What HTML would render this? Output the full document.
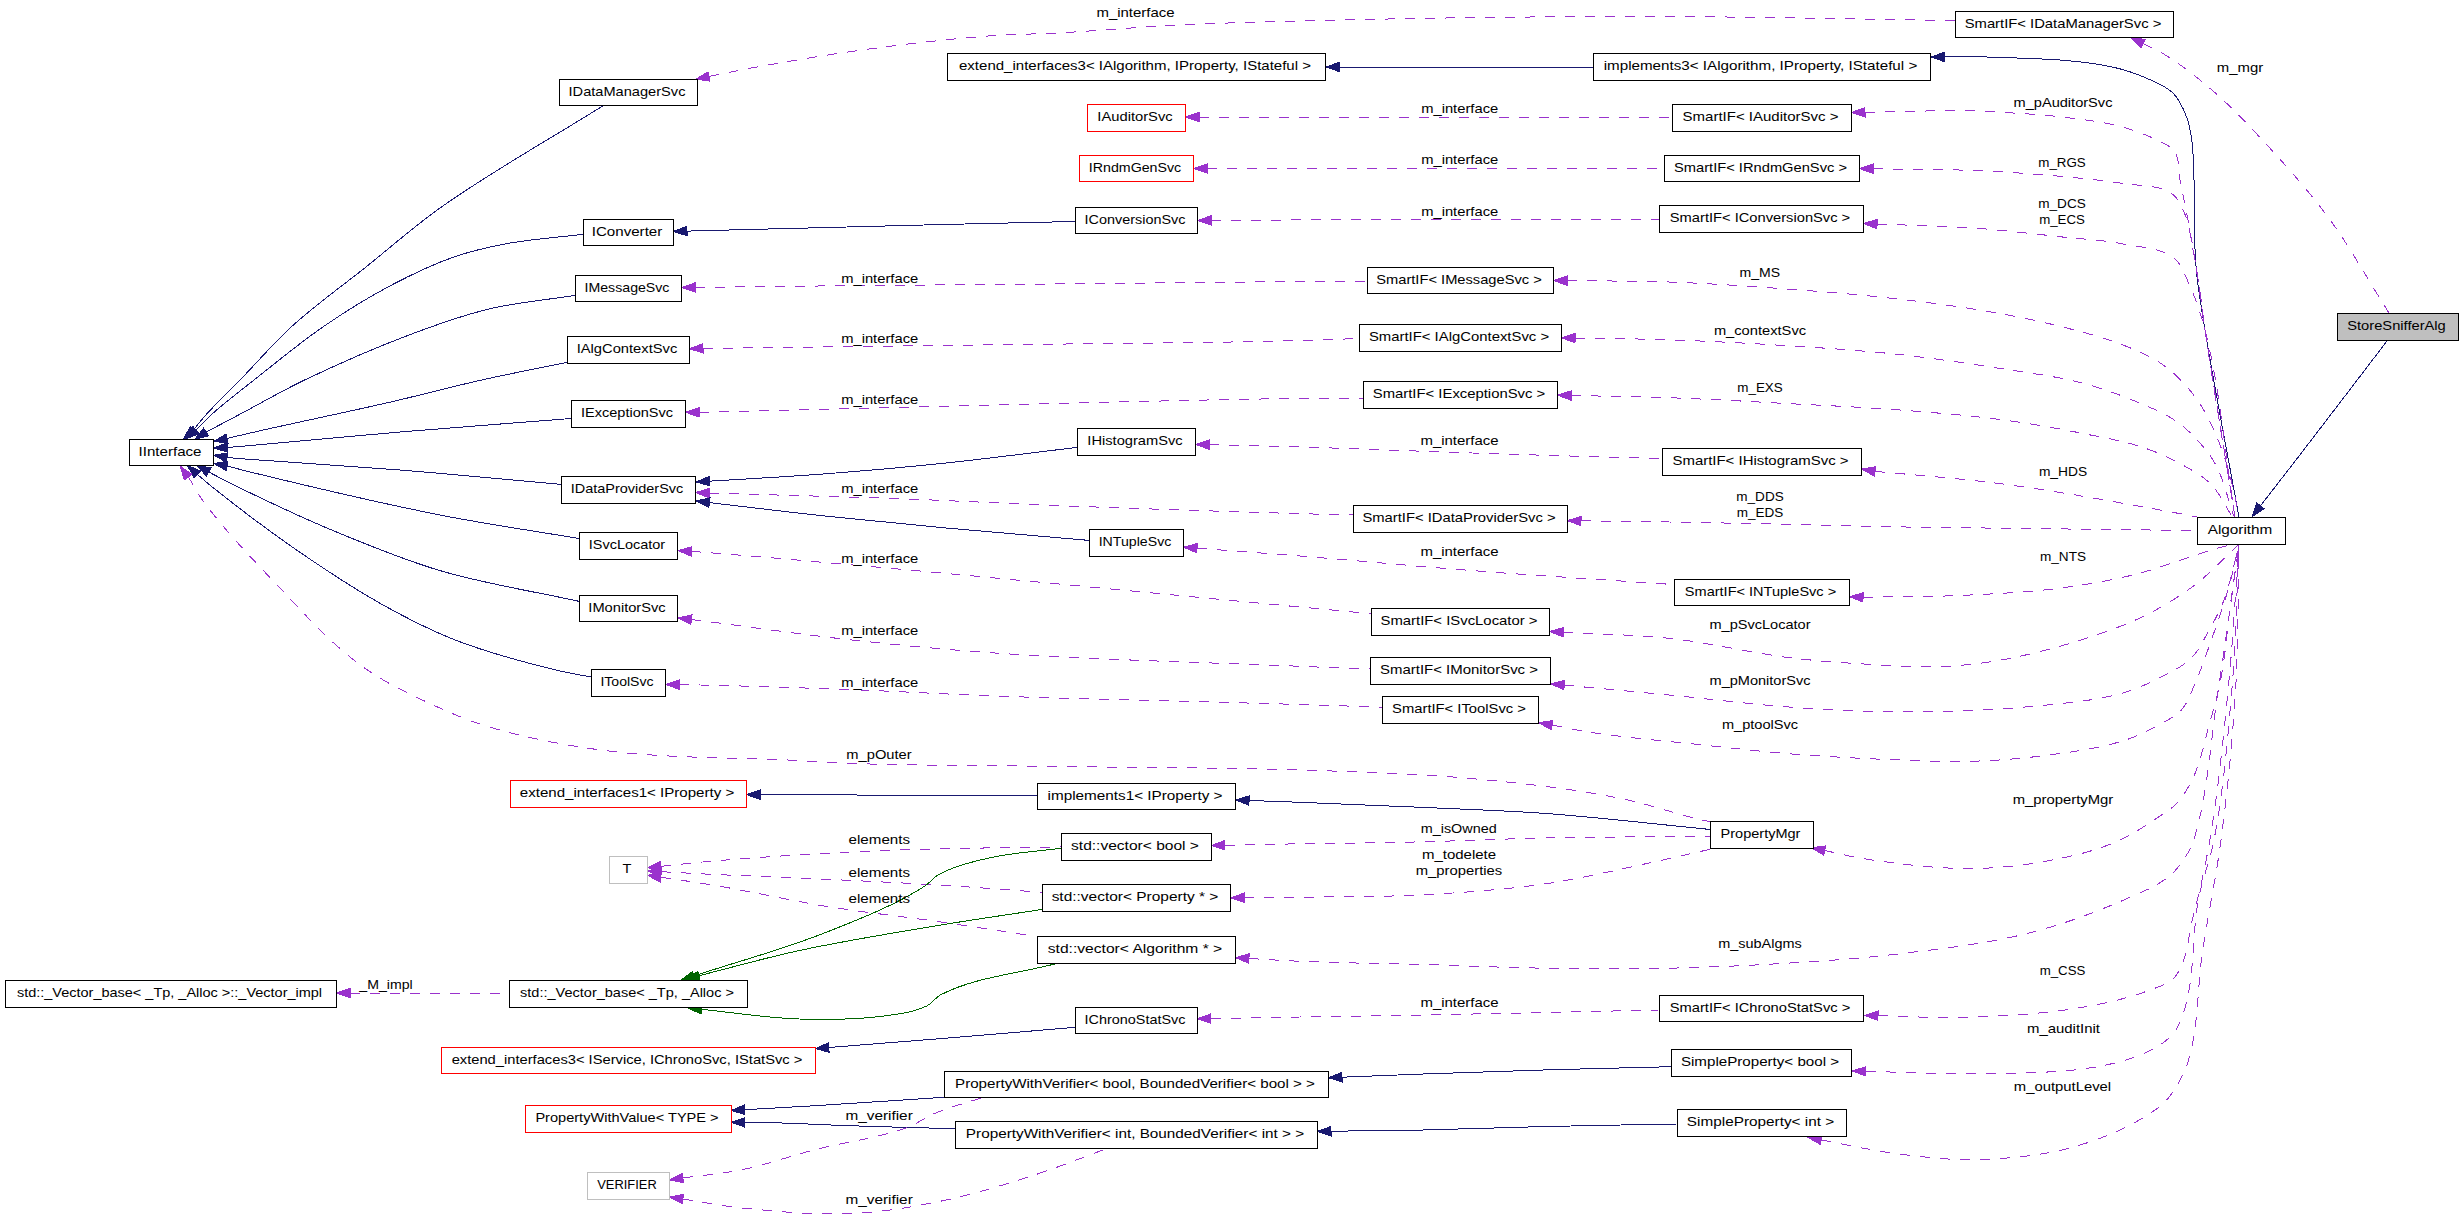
<!DOCTYPE html>
<html><head><meta charset="utf-8"><style>
html,body{margin:0;padding:0;background:#fff;}
svg{display:block;}
text{font-family:"Liberation Sans",sans-serif;font-size:13.4px;fill:#000;text-anchor:middle;}
</style></head><body>
<svg width="2464" height="1219" viewBox="0 0 2464 1219">
<rect x="0" y="0" width="2464" height="1219" fill="#fff"/>
<g fill="none" stroke-width="1" shape-rendering="crispEdges">
<path d="M1339.5,67 L1593,67" stroke="#191970"/>
<polygon points="1326,67 1339.5,62.3 1339.5,71.7" fill="#191970" stroke="#191970"/>
<path d="M1944.5,57 C1958.7,57 1972.8,56.5 1987,57 C2028.1,58.6 2069.7,58.4 2110,66.5 C2124,69.3 2137.7,74.1 2150.7,80 C2158.7,83.6 2167.2,87.1 2173.3,93.3 C2179.6,99.8 2183.3,108.5 2186.6,117 C2189.4,124.2 2190.6,131.9 2191.7,139.5 C2193.3,150.3 2193.4,161.4 2193.8,172.3 C2194.7,196.2 2193.9,220.1 2194.8,244 C2195.2,254.3 2195.7,264.6 2196.8,274.8 C2198.8,293.3 2202,311.6 2205,330 C2215.3,392.5 2227.7,454.7 2239,517" stroke="#191970"/>
<polygon points="1931,57 1944.5,52.3 1944.5,61.7" fill="#191970" stroke="#191970"/>
<path d="M2260.5,505.8 C2273.6,488.8 2286.9,471.9 2300,454.8 C2329.1,417 2358,378.9 2387,341" stroke="#191970"/>
<polygon points="2252.2,516.5 2256.8,502.9 2264.2,508.7" fill="#191970" stroke="#191970"/>
<path d="M687,231.1 C731.3,229.9 775.7,228.8 820,227.7 C861,226.6 902,225.5 943,224.5 C987,223.4 1031,222.5 1075,221.5" stroke="#191970"/>
<polygon points="673.5,231.4 686.9,226.4 687.1,235.8" fill="#191970" stroke="#191970"/>
<path d="M709.5,481.2 C747.3,478.8 785.2,476.9 823,474 C864,470.9 905.1,467.3 946,463 C989.7,458.4 1033.3,452.6 1077,447.4" stroke="#191970"/>
<polygon points="696,482 709.2,476.5 709.8,485.8" fill="#191970" stroke="#191970"/>
<path d="M709.4,502.6 C747.3,507 785.1,511.7 823,515.8 C864,520.2 905,524.2 946,528 C993.6,532.4 1041.3,536.3 1089,540.4" stroke="#191970"/>
<polygon points="696,501 710,497.9 708.9,507.2" fill="#191970" stroke="#191970"/>
<path d="M760,794.6 C792.5,794.8 825,794.9 857.5,795 C917.3,795.2 977.2,795.2 1037,795.3" stroke="#191970"/>
<polygon points="746.5,794.6 760,789.9 760,799.3" fill="#191970" stroke="#191970"/>
<path d="M1249.1,800.5 C1266.1,801.1 1283,801.6 1300,802.3 C1341,803.9 1382,805.5 1423,807.4 C1464,809.3 1505.1,810.5 1546,813.5 C1600.9,817.5 1655.7,824.2 1710.5,829.5" stroke="#191970"/>
<polygon points="1235.6,800 1249.3,795.8 1248.9,805.2" fill="#191970" stroke="#191970"/>
<path d="M828.8,1047.5 C866.2,1044.6 903.6,1041.7 941,1038.6 C985.8,1034.9 1030.5,1031.1 1075.3,1027.3" stroke="#191970"/>
<polygon points="815.3,1048.6 828.4,1042.8 829.1,1052.2" fill="#191970" stroke="#191970"/>
<path d="M1342,1077.2 C1369,1076.1 1396,1075 1423,1074 C1464,1072.5 1505,1071.1 1546,1069.9 C1587.7,1068.7 1629.3,1067.8 1671,1066.7" stroke="#191970"/>
<polygon points="1328.5,1077.7 1341.8,1072.5 1342.2,1081.9" fill="#191970" stroke="#191970"/>
<path d="M1331,1131.2 C1361.7,1130.8 1392.3,1130.6 1423,1130 C1464,1129.1 1505,1127.5 1546,1126.5 C1589.7,1125.5 1633.3,1124.8 1677,1124" stroke="#191970"/>
<polygon points="1317.5,1131.4 1330.9,1126.5 1331.1,1135.9" fill="#191970" stroke="#191970"/>
<path d="M744.7,1109.7 C768.1,1108.4 791.6,1107.1 815,1105.7 C858,1103.1 901,1100.1 944,1097.3" stroke="#191970"/>
<polygon points="731.2,1110.5 744.4,1105 744.9,1114.4" fill="#191970" stroke="#191970"/>
<path d="M744.7,1122.4 C756,1122.6 767.4,1122.6 778.7,1122.9 C803,1123.6 827.4,1125 851.7,1125.8 C886.1,1127 920.6,1127.7 955,1128.7" stroke="#191970"/>
<polygon points="731.2,1122.2 744.8,1117.7 744.6,1127.1" fill="#191970" stroke="#191970"/>
<path d="M193.6,429.7 C197.7,424.8 201.5,419.7 205.8,415 C216.7,402.9 228.6,391.7 240,380 C257.5,362 273.8,342.9 292.3,326 C315.6,304.8 341.4,286.6 366,267 C390.6,247.3 414.3,226.2 440,208 C492.5,170.8 549.1,139.6 603.6,105.4" stroke="#191970"/>
<polygon points="183.7,438.8 190.4,426.2 196.8,433.1" fill="#191970" stroke="#191970"/>
<path d="M196,430 C201,425 205.8,419.7 211,415 C224.7,402.6 239.5,391.5 254,380 C277.2,361.7 299.9,342.7 324.3,326 C345.7,311.3 367.8,297.6 390.7,285.5 C411.4,274.6 432.6,264.4 454.7,256.7 C471.5,250.9 488.9,247 506.4,243.7 C531.8,239 557.6,237.4 583.2,234.3" stroke="#191970"/>
<polygon points="186,439 192.9,426.5 199.2,433.5" fill="#191970" stroke="#191970"/>
<path d="M206.2,432 C217,426.3 227.7,420.7 238.5,415 C260.5,403.4 282.1,390.8 304.6,380 C340.1,363 376.2,347.3 413,333.5 C437.9,324.2 463.1,315.2 489,309 C517.3,302.2 546.5,299.9 575.3,295.4" stroke="#191970"/>
<polygon points="194.9,439.4 203.6,428.1 208.8,435.9" fill="#191970" stroke="#191970"/>
<path d="M227,438.6 C233,437.1 239,435.6 245,434.2 C293.5,423 342.2,413.2 390.7,402 C421.1,395 451.3,386.8 481.8,380 C510.2,373.6 538.7,368.2 567.2,362.3" stroke="#191970"/>
<polygon points="213.8,441.4 226,434 228,443.2" fill="#191970" stroke="#191970"/>
<path d="M227.3,447.5 C233.2,447 239.1,446.5 245,446 C296.7,441.5 348.3,436.4 400,432 C457,427.2 514,423 571,418.5" stroke="#191970"/>
<polygon points="213.8,448 227.1,442.8 227.5,452.2" fill="#191970" stroke="#191970"/>
<path d="M227.1,457.5 C233.1,458 239,458.5 245,459 C296.6,463 348.4,465.9 400,470 C453.8,474.3 507.5,479.6 561.3,484.4" stroke="#191970"/>
<polygon points="213.8,455.2 227.9,452.8 226.3,462.1" fill="#191970" stroke="#191970"/>
<path d="M227.1,466 C233,467.5 239,469.2 245,470.7 C309.7,486.6 374.6,502 440,515 C486.2,524.2 532.9,530.7 579.3,538.6" stroke="#191970"/>
<polygon points="213.8,463.5 227.9,461.3 226.2,470.6" fill="#191970" stroke="#191970"/>
<path d="M208.7,472 C217.1,476.3 225.4,480.9 233.9,485 C266.9,501.1 300.1,516.9 334,531 C368.8,545.5 403.8,559.9 440,570.6 C485.6,584.1 532.9,591.1 579.3,601.4" stroke="#191970"/>
<polygon points="196.9,465.5 211,467.9 206.5,476.1" fill="#191970" stroke="#191970"/>
<path d="M197.5,474.5 C201.6,478 205.6,481.6 209.8,485 C236.7,506.5 264,527.4 292.3,547 C321.1,567 350.4,586.6 381,603.8 C405.6,617.6 430.7,630.5 457,640.7 C489,653.1 522.3,661.8 555.6,670 C567.3,672.9 579.2,674.7 591,677" stroke="#191970"/>
<polygon points="187.4,465.5 200.6,471 194.3,478" fill="#191970" stroke="#191970"/>
<path d="M708.9,76.5 C721.3,74 733.6,71.3 746,69 C786.9,61.5 827.8,54.6 869,49 C909.9,43.5 950.9,38.8 992,35.7 C1013.6,34.1 1035.3,34.2 1057,33 C1095.7,30.9 1134.3,27.4 1173,25.4 C1214,23.3 1255,22 1296,21 C1410.9,18.2 1525.8,16.5 1640.7,16.5 C1745.5,16.5 1850.2,19.1 1955,20.4" stroke="#9a32cd" stroke-dasharray="10,10"/>
<polygon points="695.7,79.2 708,71.9 709.9,81.1" fill="#9a32cd" stroke="#9a32cd"/>
<path d="M2143,43.6 C2150.3,47.3 2158,50.4 2165,54.8 C2181.6,65.2 2197.2,77.2 2212,90 C2231.5,106.9 2249.3,125.8 2266.8,144.8 C2288.7,168.6 2310.3,192.9 2329.4,219 C2349.5,246.4 2365.9,276.3 2384,305 C2385.7,307.7 2387.3,310.3 2389,313" stroke="#9a32cd" stroke-dasharray="10,10"/>
<polygon points="2131,37.4 2145.2,39.4 2140.9,47.7" fill="#9a32cd" stroke="#9a32cd"/>
<path d="M1199,117 L1672,117" stroke="#9a32cd" stroke-dasharray="10,10"/>
<polygon points="1185.5,117 1199,112.3 1199,121.7" fill="#9a32cd" stroke="#9a32cd"/>
<path d="M1207.2,168.5 L1664,168.5" stroke="#9a32cd" stroke-dasharray="10,10"/>
<polygon points="1193.7,168.5 1207.2,163.8 1207.2,173.2" fill="#9a32cd" stroke="#9a32cd"/>
<path d="M1211.2,220.4 C1274.1,220.1 1337.1,219.7 1400,219.5 C1486.3,219.2 1572.7,219.2 1659,219" stroke="#9a32cd" stroke-dasharray="10,10"/>
<polygon points="1197.7,220.5 1211.2,215.7 1211.2,225.1" fill="#9a32cd" stroke="#9a32cd"/>
<path d="M695.2,287.5 C696.8,287.4 698.4,287.4 700,287.4 C749.2,286.8 798.5,286.2 847.7,285.7 C896.8,285.2 945.9,284.9 995,284.5 C1096.7,283.6 1198.3,282.4 1300,281.5 C1322.3,281.3 1344.7,281.2 1367,281" stroke="#9a32cd" stroke-dasharray="10,10"/>
<polygon points="681.7,287.6 695.1,282.8 695.3,292.2" fill="#9a32cd" stroke="#9a32cd"/>
<path d="M703,348.4 C800.3,347.2 897.7,346.1 995,344.8 C1096.7,343.5 1198.4,343.1 1300,340.6 C1319.7,340.1 1339.3,339.2 1359,338.5" stroke="#9a32cd" stroke-dasharray="10,10"/>
<polygon points="689.5,348.7 702.9,343.7 703.1,353.1" fill="#9a32cd" stroke="#9a32cd"/>
<path d="M699.1,412.4 C797.7,409.9 896.4,407.3 995,405 C1096.7,402.6 1198.3,399.8 1300,398.4 C1321,398.1 1342,398.1 1363,398" stroke="#9a32cd" stroke-dasharray="10,10"/>
<polygon points="685.6,412.2 699.2,407.7 699,417.1" fill="#9a32cd" stroke="#9a32cd"/>
<path d="M1209.2,444.7 C1239.5,445.5 1269.7,446.1 1300,447 C1357.4,448.7 1414.9,451.1 1472.3,453 C1535.6,455.1 1599,456.8 1662.3,458.7" stroke="#9a32cd" stroke-dasharray="10,10"/>
<polygon points="1195.7,444.4 1209.3,440 1209.1,449.4" fill="#9a32cd" stroke="#9a32cd"/>
<path d="M709.1,493 C730.7,493.6 752.2,494.3 773.8,494.9 C814.9,496.1 855.9,497.1 897,498.6 C954.3,500.7 1011.7,503.8 1069,506 C1142.9,508.8 1216.8,511.2 1290.7,513.4 C1311.5,514 1332.2,514.5 1353,515" stroke="#9a32cd" stroke-dasharray="10,10"/>
<polygon points="695.6,492.6 709.2,488.3 709,497.7" fill="#9a32cd" stroke="#9a32cd"/>
<path d="M1197.1,548.2 C1231.4,550.8 1265.7,553.3 1300,556 C1357.5,560.6 1414.8,566.2 1472.3,570.6 C1539.5,575.8 1606.8,579.9 1674,584.6" stroke="#9a32cd" stroke-dasharray="10,10"/>
<polygon points="1183.6,547.2 1197.4,543.5 1196.7,552.9" fill="#9a32cd" stroke="#9a32cd"/>
<path d="M691.5,551.5 C694.3,551.6 697.2,551.8 700,552 C749.3,555.7 798.5,560.2 847.7,564.5 C896.8,568.8 945.9,573.4 995,578 C1096.7,587.5 1198.3,597.4 1300,607 C1323.8,609.2 1347.6,611.5 1371.4,613.7" stroke="#9a32cd" stroke-dasharray="10,10"/>
<polygon points="678,550.6 691.8,546.8 691.2,556.1" fill="#9a32cd" stroke="#9a32cd"/>
<path d="M691.4,619.5 C694.3,619.9 697.1,620.2 700,620.6 C749.2,626.8 798.4,634.1 847.7,639.5 C896.7,644.9 945.8,649.7 995,653 C1096.5,659.9 1198.3,662.1 1300,666.3 C1323.5,667.3 1346.9,668.1 1370.4,669" stroke="#9a32cd" stroke-dasharray="10,10"/>
<polygon points="678,617.9 692,614.9 690.8,624.2" fill="#9a32cd" stroke="#9a32cd"/>
<path d="M679.5,684.7 C686.3,684.8 693.2,684.8 700,685 C749.2,686.1 798.5,687.7 847.7,689.5 C896.8,691.3 945.9,694.2 995,696 C1096.6,699.7 1198.3,701.4 1300,704.5 C1327.5,705.3 1355,706.3 1382.5,707.2" stroke="#9a32cd" stroke-dasharray="10,10"/>
<polygon points="666,684.5 679.6,680 679.4,689.4" fill="#9a32cd" stroke="#9a32cd"/>
<path d="M1210.9,1018.6 C1240.6,1018 1270.3,1017.5 1300,1017 C1341,1016.3 1382,1015.7 1423,1015 C1464,1014.2 1505,1013.4 1546,1012.5 C1583.7,1011.7 1621.3,1010.8 1659,1010" stroke="#9a32cd" stroke-dasharray="10,10"/>
<polygon points="1197.4,1018.8 1210.8,1013.9 1211,1023.3" fill="#9a32cd" stroke="#9a32cd"/>
<path d="M1865,112.3 C1899.7,111.8 1934.3,110.3 1969,110.8 C1979.3,111 1989.7,111.6 2000,112.2 C2020.5,113.5 2041.1,114.5 2061.5,117 C2082.1,119.5 2103,121.6 2123,127.2 C2137.2,131.2 2151,136.6 2164,143.6 C2167.7,145.6 2172,147.2 2174.3,150.7 C2180.2,159.7 2178.3,171.9 2180.4,182.5 C2183.1,196.2 2186.1,209.8 2188.6,223.5 C2192.4,243.9 2195.9,264.4 2199,285 C2201.3,300 2202.8,315 2205,330 C2214.2,392.5 2225,454.7 2235,517" stroke="#9a32cd" stroke-dasharray="10,10"/>
<polygon points="1851.5,112.5 1864.9,107.6 1865.1,117" fill="#9a32cd" stroke="#9a32cd"/>
<path d="M1873.2,168.8 C1905.1,169.3 1937.1,169.2 1969,170.3 C1982.1,170.7 1995.1,171.5 2008.2,172.3 C2026,173.4 2043.8,174.7 2061.5,176.4 C2082,178.4 2102.6,180.2 2123,183.5 C2139.5,186.2 2158.3,184.3 2172,193.8 C2178.4,198.2 2181.5,206.2 2184.5,213.3 C2189.1,224.2 2190.4,236.3 2192.7,248 C2197.9,275.1 2200.8,302.7 2205,330 C2214.7,392.4 2225,454.7 2235,517" stroke="#9a32cd" stroke-dasharray="10,10"/>
<polygon points="1859.7,168.6 1873.3,164.1 1873.1,173.5" fill="#9a32cd" stroke="#9a32cd"/>
<path d="M1877.1,224 C1907.7,225.3 1938.4,225.8 1969,227.7 C1979.3,228.3 1989.7,229.3 2000,230.3 C2020.5,232.3 2041,234.6 2061.5,236.9 C2082,239.2 2102.8,240 2123,244 C2140.4,247.4 2160.3,247.5 2174.3,258.4 C2181.8,264.2 2184.6,274.4 2188.6,283 C2195.5,298.1 2200.9,313.9 2205,330 C2220.5,391.2 2225,454.7 2235,517" stroke="#9a32cd" stroke-dasharray="10,10"/>
<polygon points="1863.6,223.5 1877.3,219.3 1876.9,228.7" fill="#9a32cd" stroke="#9a32cd"/>
<path d="M1567.2,280.7 C1601.1,281.1 1635.1,280.8 1669,282 C1710,283.5 1751,286.3 1792,289.4 C1828,292.1 1864.1,295 1900,299.2 C1933.4,303.1 1966.9,307.6 2000,313.5 C2020.6,317.2 2041.2,321.5 2061.5,326.7 C2082.2,332 2103.1,337.1 2123,345 C2137.2,350.6 2151.6,356.6 2164,365.6 C2175.8,374.1 2186.1,384.8 2194.8,396.4 C2203.3,407.6 2209.5,420.5 2215.3,433.3 C2221.2,446.5 2225.6,460.4 2229.6,474.3 C2233.5,488 2235.9,502.1 2239,516" stroke="#9a32cd" stroke-dasharray="10,10"/>
<polygon points="1553.7,280.5 1567.3,276 1567.1,285.4" fill="#9a32cd" stroke="#9a32cd"/>
<path d="M1575.1,338.1 C1606.4,338.7 1637.7,338.7 1669,339.8 C1710,341.2 1751,343.3 1792,346 C1828,348.3 1864.1,350.7 1900,354.6 C1936.2,358.6 1972.2,364 2008.2,369.7 C2032.9,373.6 2057.8,376.6 2082,383 C2103,388.5 2123.5,396.1 2143.5,404.6 C2154.1,409.1 2164.7,413.7 2174.3,420 C2181.8,424.9 2188.6,430.9 2194.8,437.4 C2202.5,445.5 2209.9,454.2 2215.3,464 C2224.1,480.2 2227.6,498.7 2233.8,516" stroke="#9a32cd" stroke-dasharray="10,10"/>
<polygon points="1561.6,337.9 1575.2,333.4 1575,342.8" fill="#9a32cd" stroke="#9a32cd"/>
<path d="M1571.2,395.5 C1603.8,396.2 1636.4,396.5 1669,397.7 C1710,399.2 1751,401.6 1792,403.8 C1828,405.7 1864,407.2 1900,410 C1934.7,412.7 1969.5,415.4 2004,420 C2030.1,423.5 2056.1,428.1 2082,433.3 C2102.6,437.5 2123.6,440.9 2143.5,447.6 C2157.7,452.4 2171.5,458.6 2184.5,466 C2193.9,471.3 2203.7,476.7 2211.2,484.5 C2219.9,493.5 2224.9,505.5 2231.7,516" stroke="#9a32cd" stroke-dasharray="10,10"/>
<polygon points="1557.7,395.2 1571.3,390.8 1571.1,400.2" fill="#9a32cd" stroke="#9a32cd"/>
<path d="M1875,471.3 C1912.3,474.9 1949.8,477.6 1987,482 C2011.9,485 2036.7,488.8 2061.5,492.7 C2088.9,497.1 2116.2,502.1 2143.5,507 C2158.5,509.7 2173.6,512.4 2188.6,515.3 C2191.4,515.8 2194.2,516.4 2197,517" stroke="#9a32cd" stroke-dasharray="10,10"/>
<polygon points="1861.7,469 1875.8,466.7 1874.2,476" fill="#9a32cd" stroke="#9a32cd"/>
<path d="M1581,520.9 C1610.3,521.2 1639.7,521.5 1669,522 C1710,522.7 1751,523.5 1792,524.4 C1828,525.2 1864,526.3 1900,526.9 C1945.3,527.7 1990.7,528 2036,528.6 C2089.7,529.3 2143.3,529.9 2197,530.6" stroke="#9a32cd" stroke-dasharray="10,10"/>
<polygon points="1567.5,520.7 1581.1,516.2 1580.9,525.6" fill="#9a32cd" stroke="#9a32cd"/>
<path d="M1863.1,597.3 C1896.1,596.6 1929.1,596.9 1962,595.4 C1995.1,593.9 2028.2,592.2 2061,588 C2085.8,584.8 2110.5,580.6 2134.7,574.5 C2162.3,567.6 2188.7,556.5 2216,548.6 C2220.6,547.3 2225.3,546.2 2230,545" stroke="#9a32cd" stroke-dasharray="10,10"/>
<polygon points="1849.6,596.8 1863.3,592.6 1862.9,602" fill="#9a32cd" stroke="#9a32cd"/>
<path d="M1563.3,632.3 C1598.5,634.3 1633.9,634.5 1669,638.3 C1710.3,642.8 1750.8,653 1792,658 C1815.9,660.9 1840,662.6 1864,664 C1888.6,665.5 1913.3,667.7 1938,666.7 C1962.7,665.7 1987.5,663 2011.7,658 C2049.8,650.2 2087.4,639.1 2123.7,625 C2137.7,619.6 2151.3,612.7 2164.3,605.2 C2176.3,598.2 2188,590.5 2198.8,581.8 C2212.8,570.6 2224.9,557.3 2238,545" stroke="#9a32cd" stroke-dasharray="10,10"/>
<polygon points="1549.8,631.5 1563.5,627.6 1563,637" fill="#9a32cd" stroke="#9a32cd"/>
<path d="M1564.2,685.1 C1599.2,688.4 1634.1,691.6 1669,695 C1710,699 1750.9,704.3 1792,707.2 C1827.9,709.8 1864,712 1900,712 C1945.5,712 1991,710.3 2036.3,706 C2064.4,703.3 2092.7,701 2120,693.8 C2131.9,690.6 2143.4,685.8 2154.5,680.3 C2167.4,673.9 2181.1,668 2191.4,658 C2199,650.5 2203.3,640.3 2208.6,631 C2214,621.4 2219.5,611.8 2223.4,601.5 C2230.4,583.3 2233.8,563.8 2239,545" stroke="#9a32cd" stroke-dasharray="10,10"/>
<polygon points="1550.8,683.8 1564.7,680.4 1563.8,689.8" fill="#9a32cd" stroke="#9a32cd"/>
<path d="M1552,725.1 C1566.3,727.8 1580.6,730.9 1595,733 C1627.8,737.8 1660.8,740.5 1693.8,744 C1726.5,747.5 1759.2,751.4 1792,754 C1827.9,756.8 1864,758.6 1900,760 C1920.7,760.8 1941.3,761.9 1962,761.5 C1986.7,761 2011.5,759.6 2036,756.6 C2065.5,752.9 2095.4,749.5 2123.7,740.6 C2137.9,736.1 2151.4,729.4 2164.3,722 C2170.4,718.5 2176.9,715.1 2181.5,709.8 C2188.7,701.5 2191.9,690.4 2196.3,680.3 C2201.9,667.5 2206.3,654.2 2211,641 C2217.1,623.8 2223.3,606.6 2228.3,589 C2232.5,574.5 2235.4,559.7 2239,545" stroke="#9a32cd" stroke-dasharray="10,10"/>
<polygon points="1538.7,722.7 1552.8,720.5 1551.1,729.8" fill="#9a32cd" stroke="#9a32cd"/>
<path d="M1824.7,850.5 C1838.3,853.4 1851.8,857 1865.5,859 C1903.4,864.5 1941.7,869.5 1980,868.4 C2013,867.4 2045.9,862.1 2078,854.4 C2092.4,850.9 2106.6,846.2 2120,840 C2133,834 2145.1,826 2157,818 C2163.8,813.5 2171.1,809.4 2176.6,803.4 C2183.9,795.6 2189.4,786 2193.8,776.3 C2200.9,760.7 2204,743.5 2208.6,727 C2213.1,710.7 2217.9,694.4 2221,677.8 C2225.8,652.6 2227.3,626.9 2230.8,601.5 C2233.4,582.6 2236.3,563.8 2239,545" stroke="#9a32cd" stroke-dasharray="10,10"/>
<polygon points="1811.5,847.8 1825.7,845.9 1823.8,855.1" fill="#9a32cd" stroke="#9a32cd"/>
<path d="M1249,958.5 C1266,959.4 1283,960.6 1300,961.3 C1341,963 1382,963.4 1423,964.5 C1464,965.7 1505,967.6 1546,968.2 C1587,968.8 1628,969.1 1669,968.2 C1712.7,967.2 1756.4,965.2 1800,962.4 C1832.7,960.3 1865.5,958 1898,954 C1941.9,948.6 1986.1,943.9 2029,933 C2062.6,924.5 2095.3,912.5 2127,898.6 C2141.9,892.1 2157.5,886 2170,875.6 C2177.4,869.4 2182.9,861 2188,852.7 C2190.4,848.7 2192.4,844.5 2193.8,840 C2208.7,790.8 2210.7,738.5 2218.5,687.7 C2225.8,640.2 2232.2,592.6 2239,545" stroke="#9a32cd" stroke-dasharray="10,10"/>
<polygon points="1235.5,957.7 1249.2,953.8 1248.7,963.1" fill="#9a32cd" stroke="#9a32cd"/>
<path d="M1878,1015.7 C1906.6,1016.2 1935.1,1018.3 1963.7,1017.4 C2001.9,1016.2 2040.3,1014.2 2078,1008 C2102.4,1004 2126.9,998.8 2150,990 C2158.7,986.7 2168.8,984.2 2174.8,977 C2187.9,961.2 2187.6,937.9 2192.8,918 C2199.5,892.3 2205.4,866.2 2209.8,840 C2218.3,789.6 2223.3,738.6 2228.3,687.7 C2233,640.2 2235.4,592.6 2239,545" stroke="#9a32cd" stroke-dasharray="10,10"/>
<polygon points="1864.5,1015.4 1878.1,1011 1877.9,1020.4" fill="#9a32cd" stroke="#9a32cd"/>
<path d="M1865.9,1071.3 C1903.9,1072.1 1942,1074.7 1980,1073.7 C2023.8,1072.5 2068.4,1073.9 2111,1063.9 C2129.3,1059.6 2147.9,1053.4 2163.3,1042.6 C2169.3,1038.4 2174.8,1032.8 2178,1026.2 C2197.1,986.3 2190.1,938.5 2199.3,895.3 C2203.3,876.6 2210.4,858.7 2214,840 C2223.6,789.8 2227.7,738.6 2232,687.7 C2236,640.2 2236.7,592.6 2239,545" stroke="#9a32cd" stroke-dasharray="10,10"/>
<polygon points="1852.4,1071 1866,1066.6 1865.8,1076" fill="#9a32cd" stroke="#9a32cd"/>
<path d="M1821.3,1139.9 C1846.9,1144.6 1872.2,1150.7 1898,1153.9 C1925.2,1157.3 1952.6,1160.5 1980,1159.5 C2013,1158.3 2046.4,1155.2 2078,1145.7 C2107,1136.9 2135.8,1124.7 2160,1106.4 C2165.2,1102.5 2169.3,1097.1 2173,1091.7 C2179.2,1082.5 2184.6,1072.6 2187.9,1062 C2198.9,1026.3 2197.1,987.9 2202.6,951 C2208.1,913.9 2216.1,877.2 2221,840 C2227.6,789.4 2232.7,738.6 2235.7,687.7 C2238.5,640.2 2237.9,592.6 2239,545" stroke="#9a32cd" stroke-dasharray="10,10"/>
<polygon points="1808,1137.5 1822.1,1135.3 1820.4,1144.5" fill="#9a32cd" stroke="#9a32cd"/>
<path d="M188.1,477 C188.4,477.4 188.7,477.8 189,478.2 C194.1,485.8 198,494.1 203.4,501.4 C224.2,529.4 248.3,554.8 272.4,580 C300.7,609.7 327.9,641.3 361,665.5 C385.1,683.1 412.6,695.6 439.7,708 C456.7,715.7 474.1,722.7 492,727.8 C529.6,738.6 568.2,746 607,750.8 C670.9,758.8 735.7,757.1 800,760.6 C815.9,761.5 831.8,762.7 847.7,763.3 C913.3,765.7 979,765.3 1044.6,766.3 C1129.7,767.6 1214.9,767.3 1300,770 C1357.4,771.8 1414.8,773.4 1472,778.6 C1521.6,783.1 1571.2,788.6 1620,798.3 C1648.3,803.9 1675.5,814 1703.6,820.4 C1706.4,821 1709.2,821.5 1712,822" stroke="#9a32cd" stroke-dasharray="10,10"/>
<polygon points="180.2,466.1 191.9,474.3 184.3,479.8" fill="#9a32cd" stroke="#9a32cd"/>
<path d="M1224.9,845.2 C1249.9,844.8 1275,844.2 1300,843.8 C1341,843.1 1382,842.8 1423,841.8 C1464,840.8 1505,838.8 1546,838 C1600.7,836.9 1655.3,836.9 1710,836.4" stroke="#9a32cd" stroke-dasharray="10,10"/>
<polygon points="1211.4,845.5 1224.8,840.5 1225,849.9" fill="#9a32cd" stroke="#9a32cd"/>
<path d="M1244.2,897.8 C1262.8,897.6 1281.4,897.5 1300,897.2 C1341,896.6 1382.1,897 1423,894.8 C1464.1,892.5 1505.3,889.6 1546,883.7 C1579.2,878.9 1611.8,871 1644.6,864 C1667.6,859.1 1690.5,853.7 1713.5,848.5" stroke="#9a32cd" stroke-dasharray="10,10"/>
<polygon points="1230.7,898 1244.1,893.1 1244.3,902.5" fill="#9a32cd" stroke="#9a32cd"/>
<path d="M660.8,866.3 C678.4,864.5 696,862.5 713.6,861 C760.9,857.1 808.3,854 855.7,851.7 C893.5,849.9 931.4,849.2 969.3,848.3 C999.9,847.6 1030.4,847.4 1061,846.9" stroke="#9a32cd" stroke-dasharray="10,10"/>
<polygon points="647.4,867.6 660.4,861.6 661.3,870.9" fill="#9a32cd" stroke="#9a32cd"/>
<path d="M660.9,871.7 C678.5,872.6 696,873.6 713.6,874.4 C742,875.7 770.5,876.7 798.9,878 C846.3,880.2 893.7,882.3 941,885.2 C974.8,887.2 1008.5,889.9 1042.3,892.3" stroke="#9a32cd" stroke-dasharray="10,10"/>
<polygon points="647.4,871 661.1,867 660.6,876.4" fill="#9a32cd" stroke="#9a32cd"/>
<path d="M660.8,877.3 C678.4,879.9 696,882.2 713.6,885.2 C751.6,891.6 789.2,900.3 827.3,906.5 C865.1,912.6 903.1,916.5 941,922 C971.3,926.4 1001.5,931.2 1031.8,935.8" stroke="#9a32cd" stroke-dasharray="10,10"/>
<polygon points="647.4,875.3 661.4,872.6 660.1,881.9" fill="#9a32cd" stroke="#9a32cd"/>
<path d="M350.1,993 L509,993" stroke="#9a32cd" stroke-dasharray="10,10"/>
<polygon points="336.6,993 350.1,988.3 350.1,997.7" fill="#9a32cd" stroke="#9a32cd"/>
<path d="M682.9,1178 C702.6,1175.2 722.5,1173.7 742,1169.7 C766.8,1164.6 790.7,1155.9 815.2,1149.6 C845.5,1141.8 877.1,1138.4 906.5,1127.7 C916.8,1124 925.7,1117.2 935.8,1113 C951.2,1106.6 967.4,1102.5 983.2,1097.3" stroke="#9a32cd" stroke-dasharray="10,10"/>
<polygon points="669.5,1179.9 682.2,1173.4 683.5,1182.7" fill="#9a32cd" stroke="#9a32cd"/>
<path d="M682.8,1199 C702.6,1202 722.3,1206 742.2,1208 C778.6,1211.7 815.2,1215.1 851.7,1213.5 C882.4,1212.1 912.9,1207 943,1200.7 C974,1194.2 1004.3,1184.7 1034.4,1175 C1058.9,1167.1 1082.8,1157.3 1107,1148.5" stroke="#9a32cd" stroke-dasharray="10,10"/>
<polygon points="669.5,1197 683.6,1194.4 682.1,1203.7" fill="#9a32cd" stroke="#9a32cd"/>
<path d="M693.9,975.9 C738.3,961.3 783.6,949.3 827,932 C860.5,918.7 894.6,905.5 925,886 C929.8,882.9 933.1,877.8 938,875 C953.6,866.2 971.5,862 989,858 C1012.6,852.5 1037,851.5 1061,848.3" stroke="#006400"/>
<polygon points="681,980 692.5,971.5 695.3,980.4" fill="#006400" stroke="#006400"/>
<path d="M699.1,975.7 C732.4,967.3 765.4,957.8 799,950.6 C846,940.5 893.6,932.9 941,925 C974.7,919.4 1008.5,914.6 1042.3,909.4" stroke="#006400"/>
<polygon points="686,979 697.9,971.2 700.2,980.3" fill="#006400" stroke="#006400"/>
<path d="M701.4,1009.3 C734,1012.6 766.3,1018 799,1019 C827.3,1019.9 855.9,1019.8 884,1016 C898.5,1014.1 913.5,1012.4 926.7,1006 C932.2,1003.3 935.6,997.3 941,994.6 C976.7,976.5 1018.3,973.8 1057,963.4" stroke="#006400"/>
<polygon points="688,1008 701.9,1004.7 701,1014" fill="#006400" stroke="#006400"/>
</g>
<g stroke-width="1" shape-rendering="crispEdges">
<rect x="1955.5" y="11.5" width="218" height="26" fill="#ffffff" stroke="#000000"/>
<text x="2063" y="27.7" textLength="196.6" lengthAdjust="spacingAndGlyphs">SmartIF&lt; IDataManagerSvc &gt;</text>
<rect x="947.5" y="53.5" width="378" height="27" fill="#ffffff" stroke="#000000"/>
<text x="1135" y="69.7" textLength="352" lengthAdjust="spacingAndGlyphs">extend_interfaces3&lt; IAlgorithm, IProperty, IStateful &gt;</text>
<rect x="1593.5" y="53.5" width="337" height="27" fill="#ffffff" stroke="#000000"/>
<text x="1760.5" y="69.7" textLength="313.6" lengthAdjust="spacingAndGlyphs">implements3&lt; IAlgorithm, IProperty, IStateful &gt;</text>
<rect x="559.5" y="79.5" width="138" height="26" fill="#ffffff" stroke="#000000"/>
<text x="627" y="95.7" textLength="116.9" lengthAdjust="spacingAndGlyphs">IDataManagerSvc</text>
<rect x="1087.5" y="104.5" width="98" height="27" fill="#ffffff" stroke="#ff0000"/>
<text x="1135" y="120.7" textLength="75.3" lengthAdjust="spacingAndGlyphs">IAuditorSvc</text>
<rect x="1672.5" y="104.5" width="179" height="27" fill="#ffffff" stroke="#000000"/>
<text x="1760.5" y="120.7" textLength="155.9" lengthAdjust="spacingAndGlyphs">SmartIF&lt; IAuditorSvc &gt;</text>
<rect x="1079.5" y="155.5" width="114" height="26" fill="#ffffff" stroke="#ff0000"/>
<text x="1135" y="171.7" textLength="92.4" lengthAdjust="spacingAndGlyphs">IRndmGenSvc</text>
<rect x="1664.5" y="155.5" width="195" height="26" fill="#ffffff" stroke="#000000"/>
<text x="1760.5" y="171.7" textLength="173" lengthAdjust="spacingAndGlyphs">SmartIF&lt; IRndmGenSvc &gt;</text>
<rect x="583.5" y="219.5" width="90" height="26" fill="#ffffff" stroke="#000000"/>
<text x="627" y="235.7" textLength="70.6" lengthAdjust="spacingAndGlyphs">IConverter</text>
<rect x="1075.5" y="207.5" width="122" height="26" fill="#ffffff" stroke="#000000"/>
<text x="1135" y="223.7" textLength="100.8" lengthAdjust="spacingAndGlyphs">IConversionSvc</text>
<rect x="1659.5" y="205.5" width="204" height="27" fill="#ffffff" stroke="#000000"/>
<text x="1760" y="221.7" textLength="180.4" lengthAdjust="spacingAndGlyphs">SmartIF&lt; IConversionSvc &gt;</text>
<rect x="575.5" y="275.5" width="106" height="26" fill="#ffffff" stroke="#000000"/>
<text x="627" y="291.7" textLength="84.9" lengthAdjust="spacingAndGlyphs">IMessageSvc</text>
<rect x="1367.5" y="267.5" width="186" height="26" fill="#ffffff" stroke="#000000"/>
<text x="1459" y="283.7" textLength="165.5" lengthAdjust="spacingAndGlyphs">SmartIF&lt; IMessageSvc &gt;</text>
<rect x="567.5" y="336.5" width="122" height="27" fill="#ffffff" stroke="#000000"/>
<text x="627" y="352.7" textLength="100.6" lengthAdjust="spacingAndGlyphs">IAlgContextSvc</text>
<rect x="1359.5" y="324.5" width="202" height="27" fill="#ffffff" stroke="#000000"/>
<text x="1459" y="340.7" textLength="180.2" lengthAdjust="spacingAndGlyphs">SmartIF&lt; IAlgContextSvc &gt;</text>
<rect x="571.5" y="400.5" width="114" height="27" fill="#ffffff" stroke="#000000"/>
<text x="627" y="416.7" textLength="91.9" lengthAdjust="spacingAndGlyphs">IExceptionSvc</text>
<rect x="1363.5" y="381.5" width="194" height="27" fill="#ffffff" stroke="#000000"/>
<text x="1459" y="397.7" textLength="172.5" lengthAdjust="spacingAndGlyphs">SmartIF&lt; IExceptionSvc &gt;</text>
<rect x="129.5" y="439.5" width="84" height="26" fill="#ffffff" stroke="#000000"/>
<text x="170" y="455.7" textLength="63" lengthAdjust="spacingAndGlyphs">IInterface</text>
<rect x="1077.5" y="428.5" width="118" height="27" fill="#ffffff" stroke="#000000"/>
<text x="1135" y="444.7" textLength="95.3" lengthAdjust="spacingAndGlyphs">IHistogramSvc</text>
<rect x="1662.5" y="448.5" width="199" height="27" fill="#ffffff" stroke="#000000"/>
<text x="1760.5" y="464.7" textLength="176" lengthAdjust="spacingAndGlyphs">SmartIF&lt; IHistogramSvc &gt;</text>
<rect x="561.5" y="476.5" width="134" height="27" fill="#ffffff" stroke="#000000"/>
<text x="627" y="492.7" textLength="112.5" lengthAdjust="spacingAndGlyphs">IDataProviderSvc</text>
<rect x="1353.5" y="505.5" width="214" height="27" fill="#ffffff" stroke="#000000"/>
<text x="1459" y="521.7" textLength="193.1" lengthAdjust="spacingAndGlyphs">SmartIF&lt; IDataProviderSvc &gt;</text>
<rect x="2197.5" y="517.5" width="88" height="27" fill="#ffffff" stroke="#000000"/>
<text x="2240" y="533.7" textLength="64.6" lengthAdjust="spacingAndGlyphs">Algorithm</text>
<rect x="2337.5" y="313.5" width="121" height="27" fill="#bfbfbf" stroke="#000000"/>
<text x="2396.5" y="329.7" textLength="98.5" lengthAdjust="spacingAndGlyphs">StoreSnifferAlg</text>
<rect x="1089.5" y="529.5" width="94" height="27" fill="#ffffff" stroke="#000000"/>
<text x="1135" y="545.7" textLength="72.7" lengthAdjust="spacingAndGlyphs">INTupleSvc</text>
<rect x="579.5" y="532.5" width="98" height="27" fill="#ffffff" stroke="#000000"/>
<text x="627" y="548.7" textLength="76.4" lengthAdjust="spacingAndGlyphs">ISvcLocator</text>
<rect x="1674.5" y="579.5" width="175" height="26" fill="#ffffff" stroke="#000000"/>
<text x="1760.5" y="595.7" textLength="151.3" lengthAdjust="spacingAndGlyphs">SmartIF&lt; INTupleSvc &gt;</text>
<rect x="579.5" y="595.5" width="98" height="26" fill="#ffffff" stroke="#000000"/>
<text x="627" y="611.7" textLength="77.3" lengthAdjust="spacingAndGlyphs">IMonitorSvc</text>
<rect x="1371.5" y="608.5" width="178" height="27" fill="#ffffff" stroke="#000000"/>
<text x="1459" y="624.7" textLength="157" lengthAdjust="spacingAndGlyphs">SmartIF&lt; ISvcLocator &gt;</text>
<rect x="1370.5" y="657.5" width="180" height="27" fill="#ffffff" stroke="#000000"/>
<text x="1459" y="673.7" textLength="158" lengthAdjust="spacingAndGlyphs">SmartIF&lt; IMonitorSvc &gt;</text>
<rect x="591.5" y="669.5" width="74" height="27" fill="#ffffff" stroke="#000000"/>
<text x="627" y="685.7" textLength="53.2" lengthAdjust="spacingAndGlyphs">IToolSvc</text>
<rect x="1382.5" y="696.5" width="156" height="27" fill="#ffffff" stroke="#000000"/>
<text x="1459" y="712.7" textLength="133.8" lengthAdjust="spacingAndGlyphs">SmartIF&lt; IToolSvc &gt;</text>
<rect x="510.5" y="780.5" width="236" height="27" fill="#ffffff" stroke="#ff0000"/>
<text x="627" y="796.7" textLength="214.4" lengthAdjust="spacingAndGlyphs">extend_interfaces1&lt; IProperty &gt;</text>
<rect x="1037.5" y="783.5" width="198" height="26" fill="#ffffff" stroke="#000000"/>
<text x="1135" y="799.7" textLength="175" lengthAdjust="spacingAndGlyphs">implements1&lt; IProperty &gt;</text>
<rect x="1710.5" y="821.5" width="103" height="27" fill="#ffffff" stroke="#000000"/>
<text x="1760.5" y="837.7" textLength="79.8" lengthAdjust="spacingAndGlyphs">PropertyMgr</text>
<rect x="609.5" y="856.5" width="38" height="27" fill="#ffffff" stroke="#bfbfbf"/>
<text x="627" y="872.7" textLength="8.9" lengthAdjust="spacingAndGlyphs">T</text>
<rect x="1061.5" y="833.5" width="150" height="27" fill="#ffffff" stroke="#000000"/>
<text x="1135" y="849.7" textLength="127.9" lengthAdjust="spacingAndGlyphs">std::vector&lt; bool &gt;</text>
<rect x="1042.5" y="884.5" width="188" height="27" fill="#ffffff" stroke="#000000"/>
<text x="1135" y="900.7" textLength="166.7" lengthAdjust="spacingAndGlyphs">std::vector&lt; Property * &gt;</text>
<rect x="1037.5" y="936.5" width="198" height="27" fill="#ffffff" stroke="#000000"/>
<text x="1135" y="952.7" textLength="174.4" lengthAdjust="spacingAndGlyphs">std::vector&lt; Algorithm * &gt;</text>
<rect x="5.5" y="980.5" width="331" height="27" fill="#ffffff" stroke="#000000"/>
<text x="169.5" y="996.7" textLength="305.2" lengthAdjust="spacingAndGlyphs">std::_Vector_base&lt; _Tp, _Alloc &gt;::_Vector_impl</text>
<rect x="509.5" y="980.5" width="238" height="27" fill="#ffffff" stroke="#000000"/>
<text x="627" y="996.7" textLength="213.9" lengthAdjust="spacingAndGlyphs">std::_Vector_base&lt; _Tp, _Alloc &gt;</text>
<rect x="1075.5" y="1007.5" width="122" height="26" fill="#ffffff" stroke="#000000"/>
<text x="1135" y="1023.7" textLength="100.8" lengthAdjust="spacingAndGlyphs">IChronoStatSvc</text>
<rect x="1659.5" y="995.5" width="204" height="26" fill="#ffffff" stroke="#000000"/>
<text x="1760" y="1011.7" textLength="180.5" lengthAdjust="spacingAndGlyphs">SmartIF&lt; IChronoStatSvc &gt;</text>
<rect x="441.5" y="1047.5" width="374" height="26" fill="#ffffff" stroke="#ff0000"/>
<text x="627" y="1063.7" textLength="350.7" lengthAdjust="spacingAndGlyphs">extend_interfaces3&lt; IService, IChronoSvc, IStatSvc &gt;</text>
<rect x="1671.5" y="1049.5" width="180" height="27" fill="#ffffff" stroke="#000000"/>
<text x="1760" y="1065.7" textLength="158.2" lengthAdjust="spacingAndGlyphs">SimpleProperty&lt; bool &gt;</text>
<rect x="944.5" y="1071.5" width="384" height="26" fill="#ffffff" stroke="#000000"/>
<text x="1135" y="1087.7" textLength="359.9" lengthAdjust="spacingAndGlyphs">PropertyWithVerifier&lt; bool, BoundedVerifier&lt; bool &gt; &gt;</text>
<rect x="525.5" y="1105.5" width="206" height="27" fill="#ffffff" stroke="#ff0000"/>
<text x="627" y="1121.7" textLength="183.2" lengthAdjust="spacingAndGlyphs">PropertyWithValue&lt; TYPE &gt;</text>
<rect x="955.5" y="1121.5" width="362" height="27" fill="#ffffff" stroke="#000000"/>
<text x="1135" y="1137.7" textLength="338.3" lengthAdjust="spacingAndGlyphs">PropertyWithVerifier&lt; int, BoundedVerifier&lt; int &gt; &gt;</text>
<rect x="1677.5" y="1109.5" width="169" height="27" fill="#ffffff" stroke="#000000"/>
<text x="1760.5" y="1125.7" textLength="147.3" lengthAdjust="spacingAndGlyphs">SimpleProperty&lt; int &gt;</text>
<rect x="587.5" y="1172.5" width="82" height="27" fill="#ffffff" stroke="#bfbfbf"/>
<text x="627" y="1188.7" textLength="59.5" lengthAdjust="spacingAndGlyphs">VERIFIER</text>
</g>
<g lengthAdjust="spacing">
<text x="1135.5" y="17" textLength="78.1" lengthAdjust="spacingAndGlyphs">m_interface</text>
<text x="2240" y="72" textLength="46.4" lengthAdjust="spacingAndGlyphs">m_mgr</text>
<text x="1459.7" y="113" textLength="77.1" lengthAdjust="spacingAndGlyphs">m_interface</text>
<text x="2063" y="107" textLength="98.9" lengthAdjust="spacingAndGlyphs">m_pAuditorSvc</text>
<text x="1459.7" y="164" textLength="77.1" lengthAdjust="spacingAndGlyphs">m_interface</text>
<text x="2062" y="167" textLength="47.5" lengthAdjust="spacingAndGlyphs">m_RGS</text>
<text x="1459.7" y="216" textLength="77.1" lengthAdjust="spacingAndGlyphs">m_interface</text>
<text x="2062" y="208" textLength="47.5" lengthAdjust="spacingAndGlyphs">m_DCS</text>
<text x="2062" y="224" textLength="45.7" lengthAdjust="spacingAndGlyphs">m_ECS</text>
<text x="879.7" y="283" textLength="77.1" lengthAdjust="spacingAndGlyphs">m_interface</text>
<text x="1759.8" y="277" textLength="40.6" lengthAdjust="spacingAndGlyphs">m_MS</text>
<text x="879.7" y="343" textLength="77.1" lengthAdjust="spacingAndGlyphs">m_interface</text>
<text x="1760" y="335" textLength="92.2" lengthAdjust="spacingAndGlyphs">m_contextSvc</text>
<text x="879.7" y="404" textLength="77.1" lengthAdjust="spacingAndGlyphs">m_interface</text>
<text x="1760" y="392" textLength="45.5" lengthAdjust="spacingAndGlyphs">m_EXS</text>
<text x="1459.5" y="445" textLength="78.1" lengthAdjust="spacingAndGlyphs">m_interface</text>
<text x="2063" y="476" textLength="48.2" lengthAdjust="spacingAndGlyphs">m_HDS</text>
<text x="879.7" y="493" textLength="77.1" lengthAdjust="spacingAndGlyphs">m_interface</text>
<text x="1760" y="501" textLength="47.4" lengthAdjust="spacingAndGlyphs">m_DDS</text>
<text x="1760" y="517" textLength="46.6" lengthAdjust="spacingAndGlyphs">m_EDS</text>
<text x="1459.5" y="556" textLength="78.1" lengthAdjust="spacingAndGlyphs">m_interface</text>
<text x="2063" y="561" textLength="46.1" lengthAdjust="spacingAndGlyphs">m_NTS</text>
<text x="879.7" y="563" textLength="77.1" lengthAdjust="spacingAndGlyphs">m_interface</text>
<text x="1760" y="629" textLength="101" lengthAdjust="spacingAndGlyphs">m_pSvcLocator</text>
<text x="879.7" y="635" textLength="77.1" lengthAdjust="spacingAndGlyphs">m_interface</text>
<text x="1760" y="685" textLength="100.9" lengthAdjust="spacingAndGlyphs">m_pMonitorSvc</text>
<text x="879.7" y="687" textLength="77.1" lengthAdjust="spacingAndGlyphs">m_interface</text>
<text x="1760" y="729" textLength="76.1" lengthAdjust="spacingAndGlyphs">m_ptoolSvc</text>
<text x="879" y="759" textLength="65.3" lengthAdjust="spacingAndGlyphs">m_pOuter</text>
<text x="2063" y="804" textLength="100.6" lengthAdjust="spacingAndGlyphs">m_propertyMgr</text>
<text x="1458.7" y="833" textLength="75.9" lengthAdjust="spacingAndGlyphs">m_isOwned</text>
<text x="1459" y="859" textLength="74.2" lengthAdjust="spacingAndGlyphs">m_todelete</text>
<text x="1459" y="875" textLength="86.5" lengthAdjust="spacingAndGlyphs">m_properties</text>
<text x="879.3" y="844" textLength="61.4" lengthAdjust="spacingAndGlyphs">elements</text>
<text x="879.3" y="877" textLength="61.4" lengthAdjust="spacingAndGlyphs">elements</text>
<text x="879.3" y="903" textLength="61.4" lengthAdjust="spacingAndGlyphs">elements</text>
<text x="1760" y="948" textLength="83.6" lengthAdjust="spacingAndGlyphs">m_subAlgms</text>
<text x="2062.5" y="975" textLength="45.7" lengthAdjust="spacingAndGlyphs">m_CSS</text>
<text x="386" y="989" textLength="53.3" lengthAdjust="spacingAndGlyphs">_M_impl</text>
<text x="1459.5" y="1007" textLength="78.1" lengthAdjust="spacingAndGlyphs">m_interface</text>
<text x="2063.5" y="1033" textLength="73.1" lengthAdjust="spacingAndGlyphs">m_auditInit</text>
<text x="879.1" y="1120" textLength="67.3" lengthAdjust="spacingAndGlyphs">m_verifier</text>
<text x="879.1" y="1204" textLength="67.3" lengthAdjust="spacingAndGlyphs">m_verifier</text>
<text x="2062.5" y="1091" textLength="97.3" lengthAdjust="spacingAndGlyphs">m_outputLevel</text>
</g>
</svg>
</body></html>
